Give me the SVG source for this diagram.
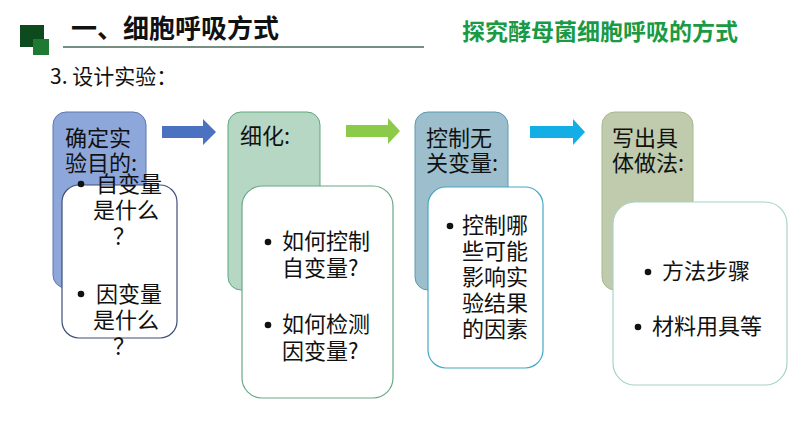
<svg xmlns="http://www.w3.org/2000/svg" width="794" height="447" viewBox="0 0 794 447">
<style>
.t{font-family:"Noto Sans CJK SC","Liberation Sans",sans-serif;font-size:22px;fill:#111}
.h{font-family:"Noto Sans CJK SC","Liberation Sans",sans-serif;font-weight:bold}
.w{fill:#fff}
</style>
<rect width="794" height="447" fill="#fff"/>
<g id="header">
<rect x="20" y="25" width="24" height="22" fill="#0d4a1e"/>
<rect x="33" y="39" width="16" height="16" fill="#1e7a32"/>
<text class="h" x="71" y="38" font-size="26" fill="#111">一、细胞呼吸方式</text>
<line x1="63" y1="47" x2="424" y2="47" stroke="#4a6a5a" stroke-width="1.5"/>
<text class="h" x="462" y="40" font-size="23" fill="#1a9a44">探究酵母菌细胞呼吸的方式</text>
<text x="50" y="84" font-family="Noto Sans CJK SC, Liberation Sans, sans-serif" font-size="21" fill="#111">3. 设计实验：</text>
</g>
<g id="connectors">
<polygon points="162,126 203,126 203,119 216,132 203,145 203,138 162,138" fill="#4a72c0"/>
<polygon points="346,125 388,125 388,118 400,131 388,144 388,137 346,137" fill="#8ccb4a"/>
<polygon points="530,126 573,126 573,119 585,132 573,145 573,138 530,138" fill="#14aee6"/>
</g>
<g id="node1">
<rect x="53" y="112" width="93" height="176" rx="13" fill="#8ea7db" stroke="#5d76b0" stroke-width="1"/>
<text class="t" x="65" y="146">确定实<tspan x="65" dy="25">验目的:</tspan></text>
<rect class="w" x="62" y="185" width="115" height="153" rx="17" stroke="#3f4d78" stroke-width="1.2"/>
<circle cx="81" cy="184" r="3.3" fill="#111"/>
<text class="t" x="96" y="192">自变量<tspan x="93" dy="26">是什么</tspan><tspan x="113" dy="26">？</tspan></text>
<circle cx="81" cy="294" r="3.3" fill="#111"/>
<text class="t" x="96" y="302">因变量<tspan x="93" dy="26">是什么</tspan><tspan x="113" dy="26">？</tspan></text>
</g>
<g id="node2">
<rect x="228" y="112" width="92" height="178" rx="13" fill="#b6d7c4" stroke="#5fa77a" stroke-width="1"/>
<text class="t" x="240" y="144">细化:</text>
<rect class="w" x="242" y="186" width="151" height="212" rx="20" stroke="#6aa888" stroke-width="1.2"/>
<circle cx="268" cy="242" r="3.3" fill="#111"/>
<text class="t" x="282" y="249">如何控制<tspan x="282" dy="27">自变量?</tspan></text>
<circle cx="268" cy="325" r="3.3" fill="#111"/>
<text class="t" x="282" y="332">如何检测<tspan x="282" dy="27">因变量?</tspan></text>
</g>
<g id="node3">
<rect x="415" y="112" width="93" height="178" rx="13" fill="#9dbfcd" stroke="#5a9aae" stroke-width="1"/>
<text class="t" x="426" y="146">控制无<tspan x="426" dy="25">关变量:</tspan></text>
<rect class="w" x="428" y="187" width="115" height="181" rx="18" stroke="#45a8c4" stroke-width="1.2"/>
<circle cx="450" cy="226" r="3.3" fill="#111"/>
<text class="t" x="462" y="233">控制哪<tspan x="462" dy="26">些可能</tspan><tspan x="462" dy="26">影响实</tspan><tspan x="462" dy="26">验结果</tspan><tspan x="462" dy="26">的因素</tspan></text>
</g>
<g id="node4">
<rect x="602" y="112" width="91" height="178" rx="13" fill="#bfcbac" stroke="#a7b88f" stroke-width="1"/>
<text class="t" x="612" y="146">写出具<tspan x="612" dy="25">体做法:</tspan></text>
<rect class="w" x="613" y="202" width="174" height="183" rx="22" stroke="#a9d2c8" stroke-width="1.2"/>
<circle cx="648" cy="272" r="3.3" fill="#111"/>
<text class="t" x="662" y="279">方法步骤</text>
<circle cx="638" cy="327" r="3.3" fill="#111"/>
<text class="t" x="652" y="334">材料用具等</text>
</g>
</svg>
